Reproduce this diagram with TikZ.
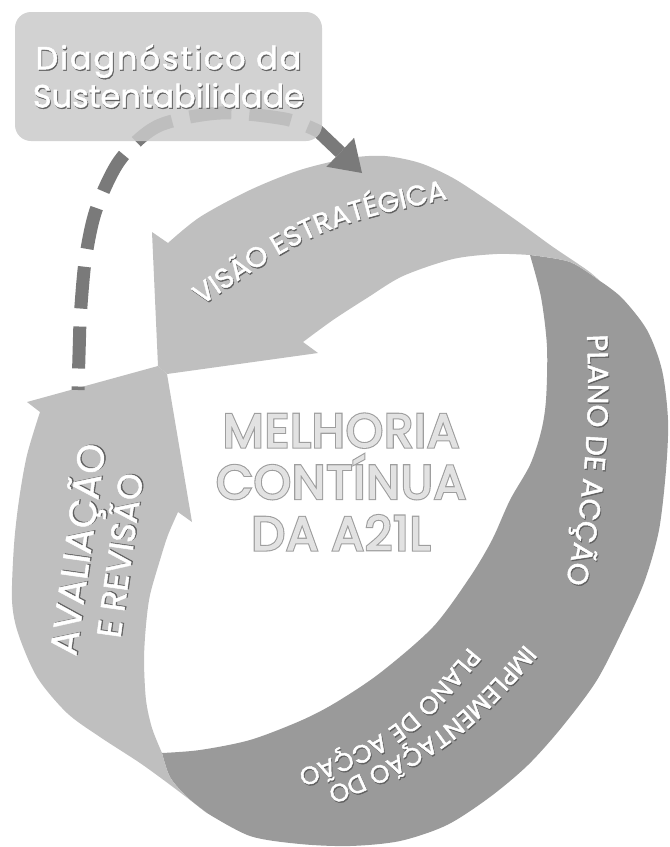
\documentclass[tikz,border=0pt]{standalone}
\usepackage{fontspec}
\setmainfont{Poppins}
\usetikzlibrary{arrows.meta,decorations.text}

\definecolor{ringlight}{HTML}{BFBFBF}
\definecolor{ringdark}{HTML}{9A9A9A}
\definecolor{boxgrey}{HTML}{CACACA}
\definecolor{dashgrey}{HTML}{7A7A7A}
\definecolor{titlefill}{HTML}{E2E2E2}
\definecolor{labelshade}{HTML}{606060}

\newcommand{\textpen}[2]{\special{pdf:literal direct #1 w #2 G 2 Tr}}
\newcommand{\shadowed}[1]{\leavevmode\rlap{\kern0.9pt\raisebox{-1.3pt}{\color{labelshade}\textpen{0.5}{0.38}#1}}{\color{white}\textpen{0.5}{1}#1}}
\newcommand{\bandlabel}[3]{%
  \path[decorate,decoration={text along path,text align=center,
    text={|\fontsize{#1}{#1}\selectfont\color{labelshade}\textpen{0.5}{0.38}|#2}},xshift=0.9pt,yshift=-1.3pt] #3;
  \path[decorate,decoration={text along path,text align=center,
    text={|\fontsize{#1}{#1}\selectfont\color{white}\textpen{0.5}{1}|#2}}] #3;}

\begin{document}
\begin{tikzpicture}[x=1pt,y=-1pt,
    frontband/.style={fill=ringlight},
    backband/.style={fill=ringdark},
    diagbox/.style={fill=boxgrey,fill opacity=0.85,text opacity=1,rounded corners=16pt,
      minimum width=307pt,minimum height=129pt,align=center,
      font=\fontsize{32}{38}\selectfont},
    dashline/.style={draw=dashgrey,line width=13pt,dash pattern=on 42pt off 18pt,
      {Triangle[width=40pt,length=30pt,line width=0pt]}-},
    titletext/.style={align=center,font=\fontsize{47}{51.5}\selectfont\addfontfeature{LetterSpace=3},
      text=titlefill},
    sidelabel/.style={align=center,rotate=82,font=\fontsize{38}{40}\selectfont}]
  \useasboundingbox (0,0) rectangle (670,847);

  \fill[backband] plot[smooth] coordinates {(530,255) (570,262) (600,281)}
    -- plot[smooth] coordinates {(600,281) (622,298) (647,330) (662,370) (668,420) (666,470)
      (659,530) (645,580) (625,625) (597,680) (562,727) (528,765) (490,797) (447,825)
      (400,841) (350,846) (300,844) (250,836) (207,813)}
    -- plot[smooth] coordinates {(207,813) (187,797) (170,777) (162,753)}
    -- plot[smooth] coordinates {(162,753) (200,750) (250,740) (300,721) (335,703) (380,673)
      (433,627) (470,577) (492,540) (510,500) (530,465) (541,432) (546,400) (547,347)
      (541,297) (530,255)}
    -- cycle;
  \fill[frontband] (158,366) -- (27,402) -- (40,412)
    -- plot[smooth] coordinates {(40,412) (27,455) (19,500) (14,545) (12,600) (18,633)
      (37,677) (67,713) (100,737) (140,763) (173,787) (207,813)}
    -- plot[smooth] coordinates {(207,813) (187,797) (170,777) (162,753)}
    -- plot[smooth] coordinates {(162,753) (152,728) (146,700) (144,660) (146,625) (150,595)
      (160,560) (168,535) (178,512)}
    -- (192,522) -- (167,374) -- cycle;
  \fill[frontband] (158,366) -- (167,374) -- (318,353) -- (303,342)
    -- plot[smooth] coordinates {(303,342) (333,320) (367,298) (403,276) (453,259) (497,254)
      (530,255)}
    -- plot[smooth] coordinates {(530,255) (570,262) (600,281)}
    -- plot[smooth] coordinates {(600,281) (587,270) (553,247) (520,223) (487,200) (453,178)
      (420,163) (385,156) (350,158) (300,170) (250,190) (200,217) (168,243)}
    -- (152,232) -- cycle;

  \coordinate (revisao) at (78,390);
  \coordinate (visao) at (362,173);
  \draw[dashline] (visao) -- plot[smooth] coordinates {(318,131) (285,119) (220,113)
    (158,126) (120,160) (96,210) (85,262) (80,320)} -- (revisao);

  \node[diagbox] (diag) at (168.5,76.5)
    {{\addfontfeature{LetterSpace=6}\shadowed{Diagnóstico da}}\\\shadowed{Sustentabilidade}};

  \bandlabel{28}{VISÃO ESTRATÉGICA}{(186,316) .. controls (313,229) and (318,226) .. (466,195)}
  \bandlabel{29}{PLANO DE ACÇÃO}{(584,292) .. controls (594,400) and (586,532) .. (553,624)}
  \bandlabel{25}{IMPLEMENTAÇÃO DO}{(545,620) .. controls (453,731) and (431,744) .. (298,801)}
  \bandlabel{25}{PLANO DE ACÇÃO}{(494,616) .. controls (398,733) and (398,735) .. (260,784)}

  \node[sidelabel] (avaliacao) at (96,552)
    {\shadowed{AVALIAÇÃO}\\{\fontsize{34}{40}\selectfont\shadowed{E REVISÃO}}};

  \node[titletext] (titlerim) at (341,482)
    {\textpen{3.2}{0.62}MELHORIA\\CONTÍNUA\\DA A21L};
  \node[titletext] (title) at (341,482)
    {\textpen{1}{0.89}MELHORIA\\CONTÍNUA\\DA A21L};
\end{tikzpicture}
\end{document}
